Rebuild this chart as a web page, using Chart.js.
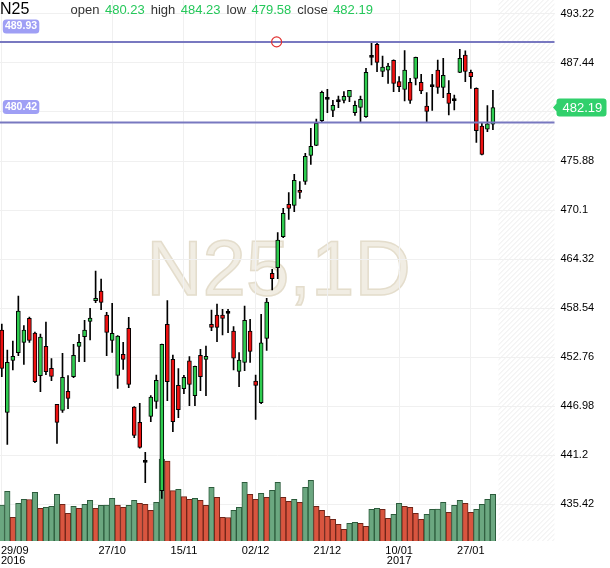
<!DOCTYPE html>
<html>
<head>
<meta charset="utf-8">
<title>N25 1D</title>
<script src="https://cdn.jsdelivr.net/npm/chart.js@4.4.1/dist/chart.umd.min.js"></script>
<style>
  html, body { margin: 0; padding: 0; background: #fff; }
  #wrap { width: 610px; height: 568px; }
</style>
</head>
<body>
<div id="wrap"><canvas id="chart" width="610" height="568"></canvas></div>
<script>
// N25 daily candles, 29/09/2016 - 02/02/2017 (one entry per session)
var openP = [455.95, 446.24, 452.37, 453.27, 454.49, 457.32, 455.59, 450.56, 454.02, 451.43,
             447.18, 446.47, 448.71, 450.44, 454.02, 455.16, 456.97, 459.41, 460.55, 457.72,
             454.73, 450.60, 453.08, 456.14, 446.86, 445.06, 440.34, 445.76, 447.53, 437.00,
             456.62, 452.49, 449.42, 449.03, 452.30, 448.20, 452.96, 452.49, 456.62, 457.72,
             457.72, 457.91, 455.83, 451.07, 452.13, 455.83, 449.93, 447.38, 454.96, 462.63,
             463.30, 466.96, 470.77, 470.65, 472.42, 473.48, 476.55, 477.73, 480.64, 483.15,
             481.86, 482.88, 483.04, 483.43, 481.58, 482.21, 481.11, 488.11, 489.64, 486.46,
             486.58, 487.75, 485.24, 484.33, 485.16, 485.63, 485.16, 482.37, 484.65, 486.61,
             484.57, 483.86, 483.00, 486.34, 488.38, 486.34, 484.45, 480.01, 479.62, 480.23];
var highP = [456.66, 453.59, 454.65, 459.96, 456.46, 457.48, 455.70, 455.48, 456.89, 452.57,
             447.18, 453.20, 450.56, 454.26, 455.44, 457.09, 458.50, 462.91, 461.96, 458.03,
             459.09, 455.30, 454.49, 457.44, 446.90, 447.30, 441.52, 448.20, 450.64, 454.30,
             459.41, 453.00, 451.39, 450.60, 452.80, 451.70, 453.67, 454.06, 458.31, 459.01,
             458.39, 458.39, 456.34, 453.27, 458.78, 457.21, 450.64, 457.80, 459.68, 463.10,
             467.43, 470.30, 472.15, 474.31, 473.44, 476.78, 479.73, 480.83, 484.14, 484.33,
             483.04, 483.55, 484.06, 484.22, 482.96, 483.55, 486.81, 489.76, 489.76, 488.27,
             487.40, 487.80, 485.83, 488.90, 485.63, 488.15, 486.10, 483.94, 486.10, 487.79,
             487.99, 485.36, 483.67, 489.05, 488.86, 486.61, 484.50, 480.32, 482.41, 484.23];
var lowP = [450.44, 442.46, 451.23, 452.92, 451.90, 454.49, 449.74, 448.67, 450.68, 449.97,
            442.58, 446.24, 446.67, 450.33, 452.21, 452.21, 454.77, 459.17, 458.35, 452.92,
            453.31, 449.07, 451.30, 449.15, 443.25, 442.00, 437.94, 445.13, 446.71, 436.09,
            447.61, 443.96, 445.61, 448.44, 447.02, 447.02, 448.79, 448.20, 455.87, 454.57,
            455.36, 455.63, 451.23, 449.27, 451.15, 452.13, 445.41, 447.26, 453.55, 460.67,
            462.00, 466.84, 469.00, 469.90, 471.48, 473.13, 475.49, 477.70, 480.52, 481.58,
            481.11, 482.17, 482.72, 482.88, 481.27, 480.52, 481.03, 487.20, 486.42, 485.83,
            485.04, 484.06, 484.06, 482.96, 482.68, 484.85, 483.82, 480.44, 481.86, 483.86,
            483.35, 481.31, 481.90, 486.30, 485.24, 484.45, 478.08, 476.60, 479.34, 479.58];
var closeP = [451.43, 452.13, 452.84, 458.19, 455.95, 454.73, 449.85, 455.12, 451.03, 450.48,
              445.06, 450.36, 447.89, 452.96, 454.49, 455.95, 457.36, 459.68, 459.21, 455.67,
              455.55, 455.24, 452.49, 449.54, 443.52, 442.11, 440.34, 448.04, 450.01, 454.26,
              449.85, 445.14, 446.55, 450.37, 449.54, 451.66, 450.44, 452.84, 456.26, 456.26,
              457.32, 457.91, 452.61, 452.41, 457.09, 453.43, 449.42, 454.42, 459.25, 462.00,
              466.56, 469.71, 470.30, 473.60, 472.18, 476.43, 477.61, 480.32, 483.98, 483.15,
              482.45, 482.88, 483.51, 484.22, 482.45, 483.15, 486.34, 488.11, 487.52, 486.97,
              487.09, 485.04, 484.65, 486.61, 483.04, 488.11, 484.14, 481.74, 484.65, 484.57,
              485.99, 482.68, 483.00, 487.99, 486.46, 485.83, 479.46, 476.67, 480.25, 482.19];
var volume = [36.0, 49.7, 23.7, 37.7, 41.7, 41.5, 48.7, 32.7, 33.7, 34.7,
              46.7, 36.7, 27.7, 34.7, 32.7, 36.7, 40.7, 32.7, 35.7, 35.9,
              42.7, 36.0, 33.7, 35.7, 40.7, 37.7, 36.7, 30.7, 38.7, 82.0,
              80.0, 50.3, 51.7, 44.3, 41.7, 42.7, 40.7, 35.7, 53.7, 43.7,
              23.7, 23.5, 30.7, 33.7, 58.7, 46.7, 41.7, 47.7, 43.7, 50.7,
              58.7, 43.7, 39.7, 41.7, 38.7, 53.7, 60.7, 34.7, 30.7, 24.7,
              21.7, 16.7, 11.7, 17.7, 18.7, 17.7, 14.7, 31.7, 32.7, 31.7,
              22.7, 26.7, 37.7, 34.7, 33.7, 27.7, 21.7, 26.7, 31.7, 31.9,
              38.7, 28.7, 35.7, 40.7, 37.7, 28.7, 31.7, 36.7, 41.7, 46.7];

// x axis ticks (session index -> date label)
var tickIdx = [0, 20, 33, 46, 59, 72, 85];
var tickDay = ['29/09', '27/10', '15/11', '02/12', '21/12', '10/01', '27/01'];
var tickYear = ['2016', '', '', '', '', '2017', ''];

// price axis ticks
var yTicks = [435.42, 441.2, 446.98, 452.76, 458.54, 464.32, 470.1, 475.88, 481.66, 487.44, 493.22];

// drawn horizontal levels
var levels = [489.93, 480.42];

var FONT = "'Liberation Sans', Arial, sans-serif";
var GREEN = '#2ecc4f', RED = '#ee1111';

var idx = closeP.map(function (c, i) { return i; });
var last = closeP.length - 1;

var bodies = idx.map(function (i) { return { x: i, y: [openP[i], closeP[i]] }; });
var wicks = idx.map(function (i) { return { x: i, y: [lowP[i], highP[i]] }; });
var vols = idx.map(function (i) { return { x: i, y: volume[i] }; });

var bodyCol = idx.map(function (i) {
  if (closeP[i] > openP[i]) return GREEN;
  if (closeP[i] < openP[i]) return RED;
  return '#000';
});
// volume bars are coloured by volume up / down versus the previous session
var volUp = idx.map(function (i) { return i === 0 || volume[i] > volume[i - 1]; });

function roundRect(ctx, x, y, w, h, r) {
  ctx.beginPath();
  ctx.moveTo(x + r, y);
  ctx.lineTo(x + w - r, y);
  ctx.quadraticCurveTo(x + w, y, x + w, y + r);
  ctx.lineTo(x + w, y + h - r);
  ctx.quadraticCurveTo(x + w, y + h, x + w - r, y + h);
  ctx.lineTo(x + r, y + h);
  ctx.quadraticCurveTo(x, y + h, x, y + h - r);
  ctx.lineTo(x, y + r);
  ctx.quadraticCurveTo(x, y, x + r, y);
  ctx.closePath();
}

// background, hatched future zone and watermark
var backdrop = {
  id: 'backdrop',
  beforeDraw: function (chart) {
    var ctx = chart.ctx, a = chart.chartArea, xs = chart.scales.x;
    ctx.save();
    ctx.fillStyle = '#fff';
    ctx.fillRect(0, 0, chart.width, chart.height);

    var hx = xs.getPixelForValue(closeP.length);
    ctx.beginPath();
    ctx.rect(hx, a.top, a.right - hx, a.bottom - a.top);
    ctx.clip();
    ctx.strokeStyle = '#ececec';
    ctx.lineWidth = 1;
    var h = a.bottom - a.top;
    for (var k = -h; k < a.right - hx; k += 5) {
      ctx.beginPath();
      ctx.moveTo(hx + k, a.bottom);
      ctx.lineTo(hx + k + h, a.top);
      ctx.stroke();
    }
    ctx.restore();

    ctx.save();
    ctx.font = '78px ' + FONT;
    ctx.textAlign = 'center';
    ctx.textBaseline = 'alphabetic';
    ctx.fillStyle = '#f1ede3';
    ctx.fillText('N25,1D', 278.5, 294.5);
    ctx.strokeStyle = '#e4ddcc';
    ctx.lineWidth = 1.5;
    ctx.strokeText('N25,1D', 278.5, 294.5);
    ctx.restore();
  }
};

// level lines with their tags
var overlay = {
  id: 'overlay',
  afterDatasetsDraw: function (chart) {
    var ctx = chart.ctx, a = chart.chartArea, ys = chart.scales.y, xs = chart.scales.x;
    ctx.save();
    levels.forEach(function (lv) {
      var y = ys.getPixelForValue(lv);
      ctx.strokeStyle = '#7878c0';
      ctx.lineWidth = 2;
      ctx.beginPath();
      ctx.moveTo(a.left, y);
      ctx.lineTo(a.right, y);
      ctx.stroke();

      roundRect(ctx, 2.8, y - 22.5, 36.5, 14, 3.5);
      ctx.fillStyle = '#9f9ff5';
      ctx.fill();
      ctx.fillStyle = '#fff';
      ctx.font = 'bold 10.5px ' + FONT;
      ctx.textAlign = 'center';
      ctx.textBaseline = 'middle';
      ctx.fillText(lv.toFixed(2), 21, y - 15.3);
    });
    var cy = ys.getPixelForValue(levels[0]);
    ctx.strokeStyle = '#e03030';
    ctx.lineWidth = 1.2;
    ctx.beginPath();
    ctx.arc(xs.getPixelForValue(49.8), cy, 5, 0, Math.PI * 2);
    ctx.stroke();
    ctx.restore();
  },
  afterDraw: function (chart) {
    var ctx = chart.ctx, xs = chart.scales.x, ys = chart.scales.y;
    ctx.save();
    ctx.textBaseline = 'alphabetic';
    ctx.textAlign = 'left';

    // header
    ctx.font = '16px ' + FONT;
    ctx.fillStyle = '#000';
    ctx.fillText('N25', 0, 13.5);
    var parts = [['open', openP[last]], ['high', highP[last]], ['low', lowP[last]], ['close', closeP[last]]];
    var x = 70.5;
    ctx.font = '13px ' + FONT;
    parts.forEach(function (p) {
      ctx.fillStyle = '#333';
      ctx.fillText(p[0], x, 14);
      x += ctx.measureText(p[0]).width + 5.5;
      ctx.fillStyle = '#25c85a';
      var t = p[1].toFixed(2);
      ctx.fillText(t, x, 13.5);
      x += ctx.measureText(t).width + 6;
    });

    // date labels
    ctx.font = '11px ' + FONT;
    ctx.fillStyle = '#000';
    tickIdx.forEach(function (ti, k) {
      var px = xs.getPixelForValue(ti);
      [tickDay[k], tickYear[k]].forEach(function (s, line) {
        if (!s) return;
        var w = ctx.measureText(s).width;
        ctx.fillText(s, Math.max(1, px - w / 2), 553.5 + line * 10);
      });
    });

    // last price tag
    var py = ys.getPixelForValue(closeP[last]);
    ctx.beginPath();
    ctx.moveTo(553, py);
    ctx.lineTo(556.5, py - 4);
    ctx.lineTo(556.5, py - 6);
    ctx.quadraticCurveTo(556.5, py - 9, 559.5, py - 9);
    ctx.lineTo(603.5, py - 9);
    ctx.quadraticCurveTo(606.5, py - 9, 606.5, py - 6);
    ctx.lineTo(606.5, py + 6);
    ctx.quadraticCurveTo(606.5, py + 9, 603.5, py + 9);
    ctx.lineTo(559.5, py + 9);
    ctx.quadraticCurveTo(556.5, py + 9, 556.5, py + 6);
    ctx.lineTo(556.5, py + 4);
    ctx.closePath();
    ctx.fillStyle = '#31d06c';
    ctx.fill();
    ctx.fillStyle = '#fff';
    ctx.font = '13px ' + FONT;
    ctx.textBaseline = 'middle';
    ctx.fillText(closeP[last].toFixed(2), 562.5, py + 0.5);
    ctx.restore();
  }
};

Chart.defaults.font.family = FONT;

new Chart(document.getElementById('chart'), {
  type: 'bar',
  data: {
    datasets: [
      {
        label: 'body',
        data: bodies,
        order: 0,
        grouped: false,
        barThickness: 4,
        minBarLength: 2,
        backgroundColor: bodyCol,
        borderColor: '#000',
        borderWidth: 1,
        borderSkipped: false
      },
      {
        label: 'wick',
        data: wicks,
        order: 1,
        grouped: false,
        barThickness: 1,
        backgroundColor: '#000',
        borderWidth: 0
      },
      {
        label: 'volume',
        data: vols,
        yAxisID: 'yv',
        order: 2,
        grouped: false,
        barThickness: 5.52,
        backgroundColor: volUp.map(function (u) { return u ? '#6ba780' : '#d9553f'; }),
        borderColor: volUp.map(function (u) { return u ? '#2c5c3c' : '#6e2418'; }),
        borderWidth: 1,
        borderSkipped: 'bottom'
      }
    ]
  },
  options: {
    responsive: false,
    devicePixelRatio: 1,
    animation: false,
    events: [],
    layout: { padding: 0 },
    plugins: { legend: { display: false }, tooltip: { enabled: false } },
    scales: {
      x: {
        type: 'linear',
        min: -0.326,
        max: 100.16,
        offset: false,
        grid: { color: '#f0f0f0', drawTicks: false, offset: false },
        border: { display: false },
        ticks: { display: false },
        afterBuildTicks: function (s) { s.ticks = tickIdx.map(function (v) { return { value: v }; }); },
        afterFit: function (s) { s.height = 27; s.paddingLeft = 0; s.paddingRight = 0; }
      },
      y: {
        position: 'right',
        min: 431.06,
        max: 494.87,
        grid: { color: '#f0f0f0', drawTicks: false },
        border: { display: false },
        ticks: {
          color: '#000',
          font: { size: 11 },
          padding: 6,
          callback: function (v) { return String(parseFloat(v.toFixed(2))); }
        },
        afterBuildTicks: function (s) { s.ticks = yTicks.map(function (v) { return { value: v }; }); },
        afterFit: function (s) { s.width = 55.5; s.paddingTop = 0; s.paddingBottom = 0; }
      },
      yv: {
        display: false,
        min: 0,
        max: 541
      }
    }
  },
  plugins: [backdrop, overlay]
});
</script>
</body>
</html>
